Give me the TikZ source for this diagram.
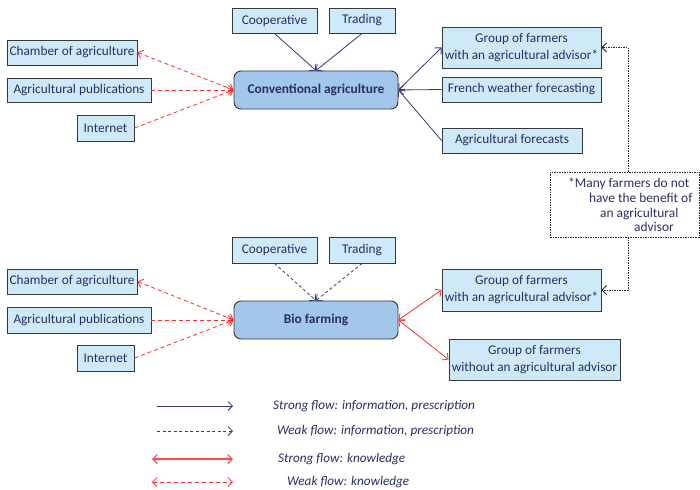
\documentclass[tikz,border=0pt]{standalone}
\usepackage{fontspec}
\setmainfont{Carlito}
\usetikzlibrary{arrows.meta}
\definecolor{ink}{RGB}{42,46,100}
\definecolor{flow}{RGB}{52,56,115}
\definecolor{knw}{RGB}{250,45,45}
\definecolor{boxfill}{RGB}{206,234,249}
\definecolor{mainfill}{RGB}{163,199,234}
\definecolor{edge}{RGB}{55,55,60}

\begin{document}
\begin{tikzpicture}[x=1pt,y=-1pt,
  >={Straight Barb[length=4.5pt,width=9pt]},
  every node/.style={font=\fontsize{13.3}{17}\selectfont, text=ink, inner sep=0pt},
  src/.style={draw=edge, fill=boxfill, line width=0.9pt, align=center},
  hub/.style={draw=edge, fill=mainfill, line width=0.9pt, rounded corners=7pt,
    minimum width=164pt, minimum height=38pt, font=\fontsize{13.4}{17}\selectfont\bfseries},
  infostrong/.style={draw=flow, line width=0.8pt, ->},
  infoweak/.style={draw=flow, line width=0.8pt, dash pattern=on 3pt off 2.5pt, ->},
  knowstrong/.style={draw=knw, line width=0.8pt, <->},
  knowweak/.style={draw=knw, line width=0.8pt, dash pattern=on 4pt off 3pt},
  notelink/.style={draw=black!85, line width=0.8pt, dash pattern=on 1.5pt off 1pt, ->},
  legendtext/.style={anchor=west, font=\fontsize{13.2}{15}\selectfont\itshape}
]
\useasboundingbox (0,0) rectangle (700,489);

% ---- conventional agriculture ----
\node[hub] (conv) at (316,90) {Conventional agriculture};
\node[src, minimum width=130pt, minimum height=25pt] (cham1) at (72,52.5) {Chamber of agriculture};
\node[src, minimum width=144pt, minimum height=24pt] (pub1) at (79,90) {Agricultural publications};
\node[src, minimum width=57pt, minimum height=26pt] (int1) at (105.5,128) {Internet};
\node[src, minimum width=85pt, minimum height=25pt] (coop1) at (274.5,20.5) {Cooperative};
\node[src, minimum width=66pt, minimum height=25pt] (trad1) at (362,20.5) {Trading};
\node[src, minimum width=159pt, minimum height=41pt] (grp1) at (521.5,47.5) {Group of farmers\\with an agricultural advisor*};
\node[src, minimum width=159pt, minimum height=25pt] (fwf) at (521.5,89.5) {French weather forecasting};
\node[src, minimum width=140pt, minimum height=25pt] (afc) at (512,140.5) {Agricultural forecasts};

\draw[knowweak, <->] (cham1.east) -- (conv.west);
\draw[knowweak, ->] (pub1.east) -- (conv.west);
\draw[knowweak, ->] (int1.east) -- (conv.west);
\draw[infostrong] (coop1.south) -- (conv.north);
\draw[infostrong] (trad1.south) -- (conv.north);
\draw[infostrong, <->] (conv.east) -- (grp1.west);
\draw[infostrong] (fwf.west) -- (conv.east);
\draw[infostrong] (afc.west) -- (conv.east);

% ---- footnote box ----
\node[draw=black!85, line width=0.8pt, dash pattern=on 1.5pt off 1pt,
  minimum width=149pt, minimum height=65pt] (note) at (624.5,204.5) {};
\node[anchor=west, align=left, font=\fontsize{13.4}{14.7}\selectfont] (notetext) at (568,205)
  {*Many farmers do not\\\hspace*{21pt}have the benefit of\\\hspace*{32pt}an agricultural\\\hspace*{66pt}advisor};

% ---- bio farming ----
\node[hub] (bio) at (316,320) {Bio farming};
\node[src, minimum width=130pt, minimum height=25pt] (cham2) at (72,281.5) {Chamber of agriculture};
\node[src, minimum width=144pt, minimum height=26pt] (pub2) at (79,320) {Agricultural publications};
\node[src, minimum width=57pt, minimum height=26pt] (int2) at (105.5,358) {Internet};
\node[src, minimum width=85pt, minimum height=26pt] (coop2) at (274.5,250) {Cooperative};
\node[src, minimum width=66pt, minimum height=26pt] (trad2) at (362,250) {Trading};
\node[src, minimum width=159pt, minimum height=42pt] (grp2) at (521.5,290) {Group of farmers\\with an agricultural advisor*};
\node[src, minimum width=171pt, minimum height=41pt] (grp3) at (534.5,359.5) {Group of farmers\\without\ an agricultural advisor};

\draw[knowweak, <->] (cham2.east) -- (bio.west);
\draw[knowweak, ->] (pub2.east) -- (bio.west);
\draw[knowweak, ->] (int2.east) -- (bio.west);
\draw[infoweak] (coop2.south) -- (bio.north);
\draw[infoweak] (trad2.south) -- (bio.north);
\draw[knowstrong] (bio.east) -- (grp2.west);
\draw[knowstrong] (bio.east) -- (grp3.west);

\draw[notelink] ([xshift=3.5pt]note.north) |- (grp1.east);
\draw[notelink] ([xshift=3.5pt]note.south) |- (grp2.east);

% ---- legend ----
\coordinate (l1a) at (157,406); \coordinate (l1b) at (233,406);
\coordinate (l2a) at (157,431); \coordinate (l2b) at (233,431);
\coordinate (l3a) at (152,459); \coordinate (l3b) at (233,459);
\coordinate (l4a) at (152,482); \coordinate (l4b) at (233,482);
\draw[infostrong] (l1a) -- (l1b);
\draw[infoweak] (l2a) -- (l2b);
\draw[knowstrong, draw=knw!85, line width=1.2pt] (l3a) -- (l3b);
\draw[knowweak, <->] (l4a) -- (l4b);
\node[legendtext] (t1) at (273,406) {Strong flow: information, prescription};
\node[legendtext] (t2) at (277,431) {Weak flow: information, prescription};
\node[legendtext] (t3) at (278,459) {Strong flow: knowledge};
\node[legendtext] (t4) at (287,482) {Weak flow: knowledge};
\end{tikzpicture}
\end{document}
